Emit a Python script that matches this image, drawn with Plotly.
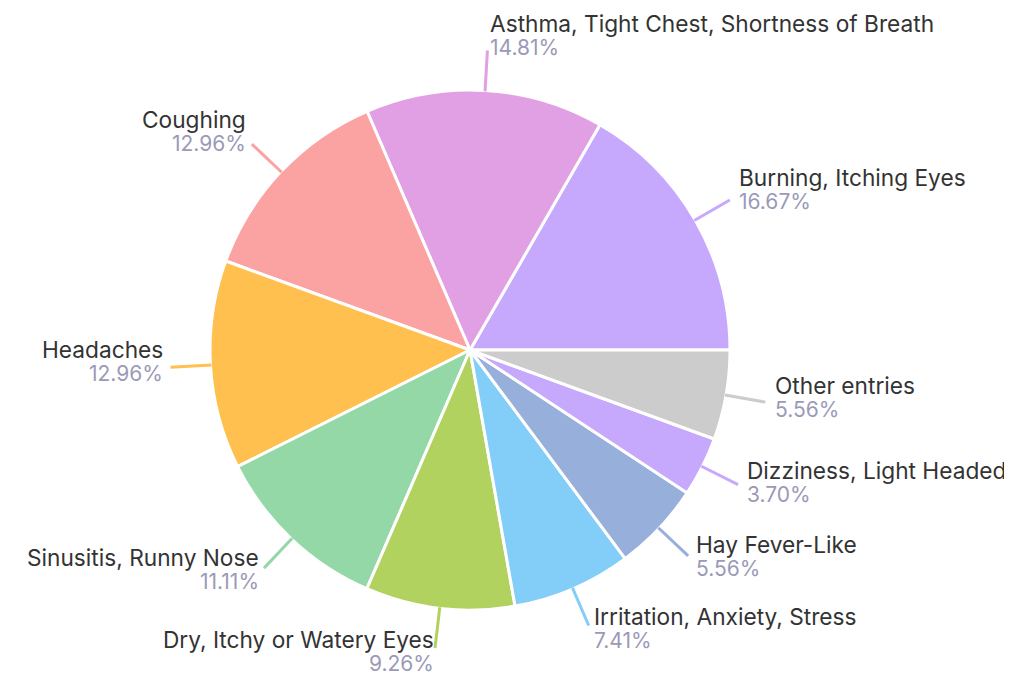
import math
import plotly.graph_objects as go

labels = ["Burning, Itching Eyes", "Asthma, Tight Chest, Shortness of Breath", "Coughing",
          "Headaches", "Sinusitis, Runny Nose", "Dry, Itchy or Watery Eyes",
          "Irritation, Anxiety, Stress", "Hay Fever-Like", "Dizziness, Light Headed",
          "Other entries"]
values = [16.67, 14.81, 12.96, 12.96, 11.11, 9.26, 7.41, 5.56, 3.70, 5.56]
colors = ["#C6A9FD", "#E1A0E3", "#FBA3A3", "#FFC050", "#94D8A8", "#B1D25E",
          "#83CDF9", "#97AFDB", "#C6A9FD", "#CCCCCC"]

W, H = 1012, 673
OFF = 8  # page body margin
CX, CY, R = 470, 350, 260
R_IN, R_OUT = 259, 300
FONT = "Inter"

def px(x):
    return (x - OFF) / W

def py(y):
    return 1 - (y - OFF) / H

total = sum(values)
rot = 90 - 360 * values[0] / total

fig = go.Figure(go.Pie(
    labels=labels, values=values, sort=False, direction="counterclockwise",
    rotation=rot, textinfo="none", hoverinfo="label+percent",
    marker=dict(colors=colors, line=dict(color="white", width=3)),
    domain=dict(x=[px(CX - R), px(CX + R)], y=[py(CY + R), py(CY - R)]),
    showlegend=False,
))

cum = 0.0
shapes, annotations = [], []
for lab, v, col in zip(labels, values, colors):
    th = math.radians(360 * (cum + v / 2) / total)
    cum += v
    c, s = math.cos(th), math.sin(th)
    x0, y0 = CX + R_IN * c, CY - R_IN * s
    x1, y1 = CX + R_OUT * c, CY - R_OUT * s
    shapes.append(dict(type="line", xref="paper", yref="paper",
                       x0=px(x0), y0=py(y0), x1=px(x1), y1=py(y1),
                       line=dict(color=col, width=3)))
    right = c >= 0
    if right:
        tx = x1 + 1 + 8 * abs(c)
    else:
        tx = x1 + 1 - 8 * abs(c)
    anchor = "left" if right else "right"
    ctr = y1 - (8 + 11 * s) + 2 + 1.5 * s
    annotations.append(dict(xref="paper", yref="paper", x=px(tx), y=py(ctr - 12),
                            text=lab, showarrow=False, xanchor=anchor, yanchor="middle",
                            font=dict(family=FONT, size=22.7, color="#333333"),
                            borderpad=0))
    annotations.append(dict(xref="paper", yref="paper", x=px(tx), y=py(ctr + 12),
                            text=f"{v:.2f}%", showarrow=False, xanchor=anchor, yanchor="middle",
                            font=dict(family=FONT, size=21, color="#9A9AB8"),
                            borderpad=0))

fig.update_layout(width=W, height=H, margin=dict(l=0, r=0, t=0, b=0),
                  paper_bgcolor="white", plot_bgcolor="white",
                  shapes=shapes, annotations=annotations)
fig.write_html("out.html")
